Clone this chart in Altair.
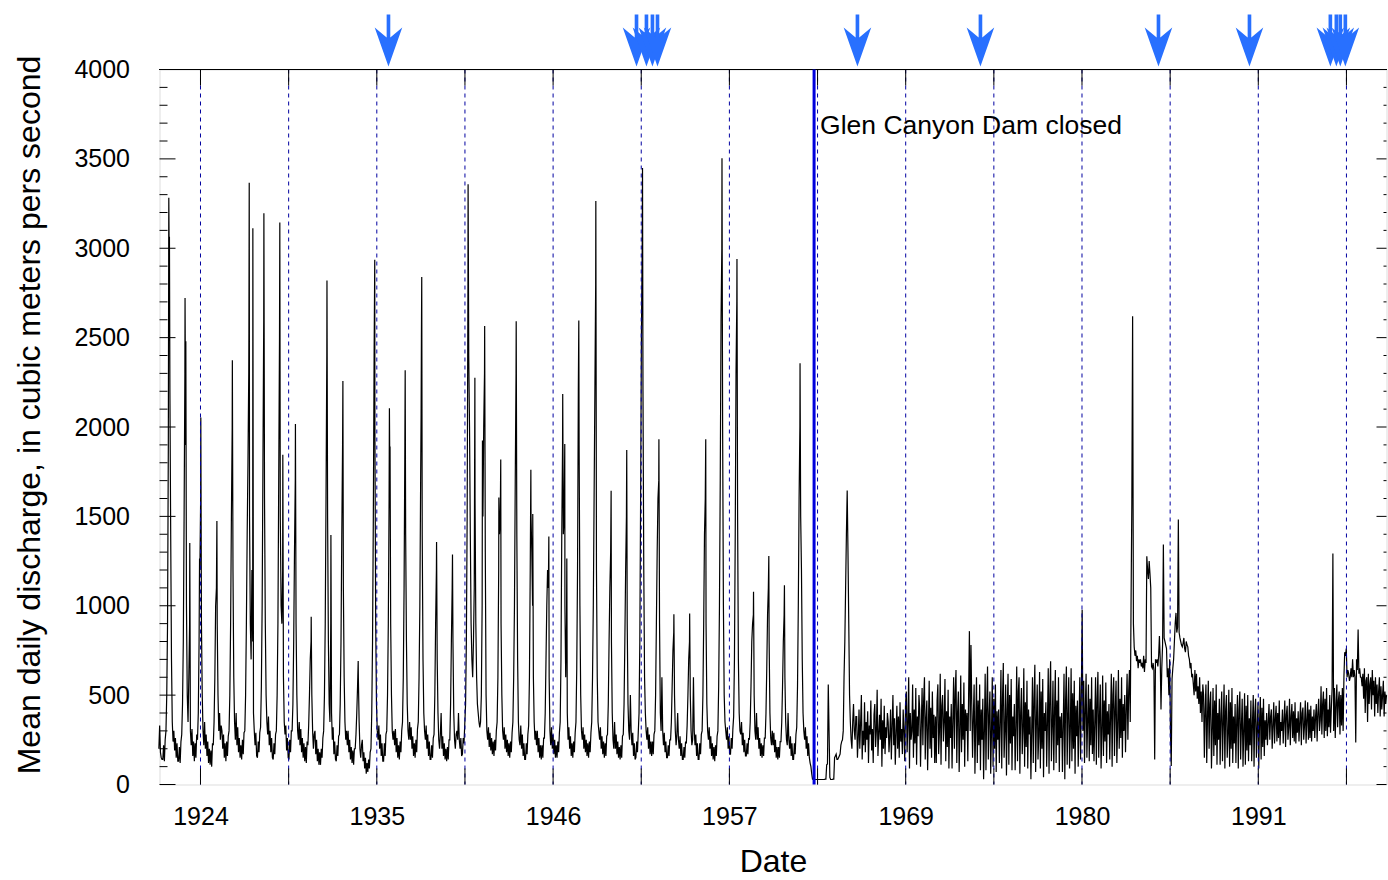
import altair as alt
import pandas as pd

# ---------------- data ----------------
# x is decimal year, y is mean daily discharge (m3/s)

oct_dec_1921 = [200, 330, 180, 150, 140]          # 1921.75 .. 1921.95 (step 0.05)

# one row per calendar year 1922..1962, values at year + 0.00, 0.05, ... 0.95
pre_dam_flow = [
    [140,220,130,250,300,500,900,1900,3000,2200,1400,700,350,240,300,190,260,150,230,130],   # 1922
    [130,210,120,240,280,450,800,1500,2300,1900,1000,500,350,600,900,300,220,310,160,240],   # 1923
    [130,230,150,280,250,400,800,1200,1600,900,500,300,220,350,200,280,160,240,120,200],     # 1924
    [110,190,100,230,220,350,600,1000,1100,900,500,300,400,250,330,300,200,280,150,230],     # 1925
    [130,240,160,270,300,500,900,1500,2000,1200,600,350,250,400,220,320,180,260,150,220],    # 1926
    [140,250,170,290,300,500,900,1400,1800,2300,1500,900,700,1200,800,400,300,220,290,160],  # 1927
    [150,240,180,290,320,550,1000,1800,2600,1600,900,500,350,280,380,220,300,180,260,150],   # 1928
    [140,230,170,280,300,500,900,1700,2500,1500,1000,900,1200,600,350,280,330,190,260,150],  # 1929
    [140,250,180,300,300,450,800,1300,1700,900,500,300,250,350,220,310,180,260,150,230],     # 1930
    [130,210,120,240,220,330,500,700,800,500,300,200,280,300,170,250,130,200,110,180],       # 1931
    [110,200,150,260,300,500,900,1600,2400,1500,800,450,350,900,400,250,320,170,240,140],    # 1932
    [130,220,160,270,280,450,800,1400,1900,1100,600,350,250,300,220,300,180,250,140,210],    # 1933
    [120,190,110,200,200,280,400,550,600,350,200,150,220,250,130,180,90,150,60,120],         # 1934
    [70,140,90,180,200,400,800,1500,2400,2000,900,450,300,250,330,200,280,160,230,130],      # 1935
    [130,230,160,280,300,500,900,1600,1700,900,500,300,250,300,220,310,180,260,150,220],     # 1936
    [140,240,180,300,350,600,1100,1900,1400,800,450,300,250,350,250,320,200,270,160,230],    # 1937
    [150,250,180,310,350,600,1000,1700,2500,1400,700,400,300,250,330,200,280,160,240,140],   # 1938
    [140,220,150,260,280,500,900,1200,700,400,250,200,280,400,200,270,160,230,140,200],      # 1939
    [130,210,140,250,250,450,800,1100,800,400,250,200,280,300,250,400,250,200,260,160],      # 1940
    [170,260,230,340,450,800,1500,2800,2400,2000,1400,900,700,600,800,1100,1600,900,600,450],# 1941
    [400,350,320,350,500,1000,1500,2000,2300,1300,500,300,250,320,210,290,190,260,170,240],  # 1942
    [160,250,190,300,350,600,1200,1400,1500,900,500,300,250,320,200,280,180,250,160,230],    # 1943
    [150,240,180,290,350,600,1000,1700,2300,1400,700,350,250,220,330,200,280,160,230,140],   # 1944
    [140,230,170,280,330,600,1200,1500,1300,1000,600,350,250,300,220,300,180,260,150,220],   # 1945
    [140,220,150,260,260,400,700,1000,1200,1100,600,300,220,320,200,280,170,250,150,220],    # 1946
    [150,240,180,290,350,700,1400,1900,1400,1500,1000,600,900,400,250,320,200,270,160,230],  # 1947
    [150,240,180,290,350,650,1200,2200,1900,1000,500,300,250,320,200,280,180,250,160,230],   # 1948
    [150,240,180,290,350,600,1000,1600,2200,2800,1200,600,350,300,250,320,200,270,170,240],  # 1949
    [150,230,160,270,280,450,800,1100,1300,800,400,250,200,350,200,280,170,240,150,210],     # 1950
    [140,220,150,270,280,450,800,1200,1500,900,450,300,250,500,300,220,290,160,230,140],     # 1951
    [150,240,180,290,400,800,1600,2500,3000,2200,1200,600,400,300,250,320,200,280,170,240],  # 1952
    [160,240,170,280,300,500,900,1300,1600,1700,900,400,300,600,300,220,290,180,240,150],    # 1953
    [150,220,160,250,250,350,550,750,850,500,300,220,280,400,250,200,270,160,230,140],       # 1954
    [140,210,150,240,230,330,500,700,800,500,300,220,250,600,300,220,280,160,230,140],       # 1955
    [140,230,170,280,300,500,900,1400,1600,900,450,300,250,320,200,270,160,230,140,210],     # 1956
    [130,220,160,270,300,550,1000,1700,2600,3000,2000,1000,500,350,300,250,320,200,270,170], # 1957
    [170,260,200,310,380,700,1400,2300,2700,1500,700,400,300,280,350,220,290,180,250,160],   # 1958
    [160,230,170,260,250,350,550,800,900,950,500,300,250,400,250,320,200,260,160,230],       # 1959
    [150,220,160,260,260,400,650,950,1100,800,400,260,220,300,220,290,180,250,150,210],      # 1960
    [140,210,150,240,240,350,550,800,950,600,350,250,220,400,250,200,270,160,230,140],       # 1961
    [140,230,170,280,320,550,1000,1600,2000,1500,1200,700,400,300,250,320,200,270,160,230],  # 1962
]
jan_mar_1963 = [150, 120, 100, 60, 30]            # 1963.00 .. 1963.20 (step 0.05)

peak_dates = [1922.38, 1922.42, 1923.41, 1923.46, 1923.71, 1924.33, 1924.41, 1925.43,
              1926.41, 1927.46, 1927.48, 1927.71, 1928.41, 1929.42, 1929.61, 1930.41,
              1931.41, 1932.41, 1932.66, 1933.42, 1934.39, 1935.44, 1936.37, 1936.41,
              1937.37, 1938.38, 1938.42, 1939.36, 1940.37, 1941.36, 1941.79, 1942.27,
              1942.41, 1943.31, 1943.43, 1944.41, 1945.34, 1945.46, 1946.48, 1947.36,
              1947.49, 1947.62, 1948.38, 1949.46, 1950.43, 1951.42, 1952.42, 1953.46,
              1954.41, 1955.41, 1956.43, 1957.46, 1958.41, 1959.46, 1960.43, 1961.42,
              1962.41]
peak_flows = [3282, 3065, 2721, 2480, 1351, 1265, 2053, 1474,
              2374, 2525, 3366, 3112, 3196, 3144, 1845, 2017,
              939, 2820, 1396, 2257, 691, 2935, 2105, 1891,
              2317, 2074, 2839, 1357, 1286, 3358, 2275, 1925,
              2565, 1605, 1818, 2591, 1761, 1513, 1388, 2184,
              1905, 1265, 2596, 3264, 1644, 1871, 3449, 1931,
              952, 957, 1931, 3504, 2940, 1078, 1278, 1114,
              2356]

# after closure: values every 0.05 year starting 1963.30
post_dam_flow = [
    [30,28,28,28,28,28,28,28,28,28,28,28,28,28],                                             # 1963.30-1963.95
    [30,30,110,115,560,300,40,28,28,28,30,30,150,160,170,140,140,150,160,170],               # 1964
    [220,240,250,300,600,800,1100,1400,1645,1300,900,500,350,250,200,350,450,300,250,380],   # 1965
    [380,150,260,420,200,340,500,140,300,220,460,180,350,250,410,120,330,280,470,190],       # 1966
    [310,120,390,450,210,300,530,160,280,390,250,480,100,360,200,440,170,320,260,400],       # 1967
    [350,180,270,420,140,330,500,220,370,110,290,440,200,380,150,460,240,310,170,420],       # 1968
    [300,130,450,520,180,350,600,90,400,250,300,560,150,420,230,540,110,380,270,500],        # 1969
    [420,100,330,540,220,480,600,140,370,470,80,320,580,200,430,150,520,260,390,120],        # 1970
    [380,120,470,560,170,300,620,110,440,500,240,350,590,130,410,210,530,90,380,260],        # 1971
    [450,90,360,600,200,520,640,120,400,520,70,300,610,180,450,250,570,100,420,300],         # 1972
    [400,130,500,858,300,780,450,150,380,560,60,330,600,120,470,220,560,80,420,250],         # 1973
    [480,30,300,620,80,450,660,140,380,520,60,290,600,100,480,200,560,70,410,250],           # 1974
    [420,120,350,640,90,480,680,150,300,560,50,420,620,110,500,230,590,80,380,270],          # 1975
    [450,80,330,660,130,520,600,60,400,540,170,300,650,100,460,210,580,90,420,280],          # 1976
    [380,30,300,600,120,480,670,70,350,560,140,270,630,90,520,200,590,40,400,300],           # 1977
    [460,100,360,650,60,500,690,130,330,580,80,410,640,120,470,220,600,70,380,260],          # 1978
    [400,70,330,620,30,470,660,110,390,600,90,300,650,130,510,200,580,60,440,270],           # 1979
    [470,100,340,600,140,520,977,300,580,120,420,620,150,360,560,130,480,220,600,170],       # 1980
    [420,130,350,600,110,480,630,150,380,560,90,300,610,160,470,240,570,120,410,280],        # 1981
    [450,140,380,620,100,500,600,160,420,580,120,330,640,200,480,260,600,150,450,300],       # 1982
    [500,180,420,620,250,520,640,350,1000,1570,2620,900,770,720,750,690,720,650,700,680],    # 1983
    [700,660,680,650,720,630,700,680,1277,1200,1150,1250,1180,1100,660,650,680,640,140,700], # 1984
    [680,700,660,720,830,700,420,650,780,1342,820,800,780,760,600,650,500,700,300,104],      # 1985
    [590,650,700,800,900,960,850,880,1482,850,820,800,780,770,790,820,760,740,800,780],      # 1986
    [770,720,700,650,680,600,620,560,500,640,520,620,480,550,450,600,400,520,350,560],       # 1987
    [500,150,420,560,120,380,580,200,450,520,90,300,540,160,470,220,560,110,400,250],        # 1988
    [480,110,390,520,130,350,560,90,420,500,150,280,530,100,460,200,540,120,380,230],        # 1989
    [450,120,360,500,90,420,520,140,330,480,100,300,510,110,440,190,500,130,370,220],        # 1990
    [470,130,340,500,100,400,480,150,310,460,90,350,490,140,430,210,480,160,360,250],        # 1991
    [400,220,350,450,250,380,420,200,330,460,230,370,440,240,400,260,470,220,350,300],       # 1992
    [420,230,360,470,210,390,440,250,320,480,220,380,450,260,410,240,460,230,370,290],       # 1993
    [410,240,350,460,220,400,430,250,330,470,230,360,460,250,420,260,440,240,380,300],       # 1994
    [420,260,380,450,240,400,480,300,360,550,280,450,520,260,480,300,540,270,420,320],       # 1995
    [500,290,420,540,1292,300,540,260,450,560,320,470,520,280,500,330,540,300,600,740],      # 1996
    [720,760,600,640,620,580,600,650,600,700,600,640,600,235,700,640,867,620,650,600],       # 1997
    [600,550,620,480,650,400,580,600,350,620,450,560,600,420,640,500,580,380,600,450],       # 1998
    [560,400,520,600,380,550,420,500,580,380,520,450,500],                                    # 1999.00-1999.60
]

arrow_dates = [1936.31, 1952.04, 1952.67, 1953.05, 1953.37, 1966.05, 1973.85,
               1985.14, 1990.91, 1996.04, 1996.42, 1996.67, 1996.99]
dam_closed = 1963.3
grid_dates = [1924.39, 1929.98, 1935.57, 1941.16, 1946.75, 1952.34, 1957.93,
              1963.52, 1969.11, 1974.70, 1980.29, 1985.88, 1991.47, 1997.06]
label_dates = grid_dates[::2]
major_y = [0, 500, 1000, 1500, 2000, 2500, 3000, 3500, 4000]
minor_y = [v for v in range(100, 4000, 100) if v % 500 != 0]

# ---------------- build tables ----------------
rows = []
for j, v in enumerate(oct_dec_1921):
    rows.append((1921.75 + 0.05 * j, v))
for i, yr_vals in enumerate(pre_dam_flow):
    for j, v in enumerate(yr_vals):
        rows.append((1922 + i + 0.05 * j, v))
for j, v in enumerate(jan_mar_1963):
    rows.append((1963.0 + 0.05 * j, v))
for d, v in zip(peak_dates, peak_flows):
    rows.append((d, v))
k = 0
for yr_vals in post_dam_flow:
    for v in yr_vals:
        rows.append((1963.3 + 0.05 * k, v))
        k += 1
flow = pd.DataFrame(rows, columns=["yr", "q"]).sort_values("yr").reset_index(drop=True)
flow["yr"] = flow["yr"].round(4)

FONT = "Liberation Sans"
xscale = alt.Scale(domain=[1921.79, 1999.60], nice=False, zero=False)
yscale = alt.Scale(domain=[0, 4000], nice=False, zero=True)

grid_df = pd.DataFrame({"yr": grid_dates})
maj_df = pd.DataFrame({"q": major_y})
min_df = pd.DataFrame({"q": minor_y})

X = alt.X("yr:Q", scale=xscale,
          axis=alt.Axis(values=label_dates, labelExpr="'' + floor(datum.value)",
                        grid=False, ticks=False, domain=False,
                        labelFont=FONT, labelFontSize=25, labelColor="black",
                        labelPadding=20, labelFlush=False,
                        title="Date", titleFont=FONT, titleFontSize=32,
                        titleFontWeight="normal", titleColor="black",
                        titleBaseline="alphabetic", titleY=87))
Y = alt.Y("q:Q", scale=yscale,
          axis=alt.Axis(values=major_y, format="d", grid=False, ticks=False, domain=False,
                        labelFont=FONT, labelFontSize=25, labelColor="black",
                        labelPadding=30,
                        title="Mean daily discharge, in cubic meters pers second",
                        titleFont=FONT, titleFontSize=32, titleFontWeight="normal",
                        titleColor="black", titleAngle=270, titleAlign="center",
                        titleBaseline="alphabetic", titleX=-120, titleY=345))

line = alt.Chart(flow).mark_line(color="black", strokeWidth=1.2).encode(
    x=X, y=Y, order="yr:Q")

xs = alt.X("yr:Q", scale=xscale, title="Date")
ys = alt.Y("q:Q", scale=yscale, title="Mean daily discharge, in cubic meters pers second")

grid = alt.Chart(grid_df).mark_rule(color="#0000a0", strokeWidth=1, strokeDash=[4, 4]).encode(x=xs)
tick_bottom = alt.Chart(grid_df).mark_rule(color="black", strokeWidth=1).encode(
    x=xs, y=alt.value(715), y2=alt.value(699))
tick_top = alt.Chart(grid_df).mark_rule(color="black", strokeWidth=1).encode(
    x=xs, y=alt.value(0), y2=alt.value(16))

ltick_major = alt.Chart(maj_df).mark_rule(color="black").encode(
    y=ys, x=alt.value(0), x2=alt.value(16))
ltick_minor = alt.Chart(min_df).mark_rule(color="black").encode(
    y=ys, x=alt.value(0), x2=alt.value(8))
rtick_major = alt.Chart(maj_df).mark_rule(color="black").encode(
    y=ys, x=alt.value(1217), x2=alt.value(1227))
rtick_minor = alt.Chart(min_df).mark_rule(color="black").encode(
    y=ys, x=alt.value(1224), x2=alt.value(1227))

frame_top = alt.Chart(maj_df).mark_rule(color="black", strokeWidth=1).encode(
    y=alt.value(0), x=alt.value(0), x2=alt.value(1227))

dam_df = pd.DataFrame({"yr": [dam_closed], "label": ["Glen Canyon Dam closed"]})
dam_line = alt.Chart(dam_df).mark_rule(color="#0000dd", strokeWidth=3).encode(x=xs)
dam_text = alt.Chart(dam_df).mark_text(align="left", baseline="middle", dx=6,
                                        font=FONT, fontSize=26.5, color="black").encode(
    x=xs, y=alt.value(56), text="label:N")

arrow_path = "M-0.07,-1L0.07,-1L0.07,-0.12L0.53,-0.5L0,1L-0.53,-0.5L-0.07,-0.12Z"
arrows = alt.Chart(pd.DataFrame({"yr": arrow_dates})).mark_point(
    shape=arrow_path, filled=True, size=2704, color="#2870ff", opacity=1, strokeWidth=0
).encode(x=xs, y=alt.value(-29))

chart = alt.layer(
    line, grid, tick_bottom, tick_top, ltick_major, ltick_minor, rtick_major, rtick_minor,
    frame_top, dam_line, dam_text, arrows
).properties(
    width=1227, height=715,
    padding={"left": 159.5, "top": 69.5, "right": 1.5, "bottom": 95.5},
    autosize=alt.AutoSizeParams(type="none"),
).configure_view(stroke="black", strokeWidth=1).configure(background="white")

chart.save("out.html", embed_options={"renderer": "svg", "actions": False})
